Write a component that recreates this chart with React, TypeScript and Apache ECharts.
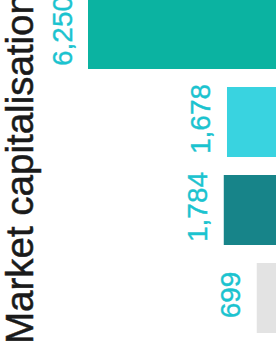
import React, { useEffect, useRef } from "react";
import * as echarts from "echarts";

const categories = ["A", "B", "C", "D"];
const values = [6250, 1678, 1784, 699];
const barColors = ["#0bb3a1", "#39d3e0", "#178489", "#e3e3e3"];
const titleText = "Market capitalisation";

export default function App() {
  const ref = useRef<HTMLDivElement>(null);
  useEffect(() => {
    if (!ref.current) return;
    const chart = echarts.init(ref.current, null, { renderer: "svg" });
    chart.setOption({
      animation: false,
      grid: {
        left: 88,
        right: -2,
        top: -10,
        bottom: 3,
        containLabel: false,
        outerBoundsMode: "none",
      },
      xAxis: {
        type: "value",
        inverse: true,
        min: 0,
        max: 6250,
        show: false,
      },
      yAxis: {
        type: "category",
        data: categories,
        inverse: true,
        show: false,
      },
      series: [
        {
          type: "bar",
          barWidth: 70,
          data: values.map((v, i) => ({ value: v, itemStyle: { color: barColors[i] } })),
          label: {
            show: true,
            position: "left",
            distance: 12,
            rotate: 90,
            align: "center",
            verticalAlign: "bottom",
            offset: [3, 0],
            color: "#1bc3cf",
            textBorderColor: "#1bc3cf",
            textBorderWidth: 0.4,
            fontSize: 28,
            fontFamily: "Liberation Sans, Arial, sans-serif",
            formatter: (p: any) => Number(p.value).toLocaleString("en-US"),
          },
        },
      ],
      graphic: [
        {
          type: "text",
          x: 0,
          y: 344,
          rotation: Math.PI / 2,
          style: {
            text: titleText,
            fontSize: 38.5,
            fontFamily: "Liberation Sans, Arial, sans-serif",
            fill: "#1a1a1a",
            stroke: "#1a1a1a",
            lineWidth: 0.5,
            textAlign: "left",
            textVerticalAlign: "top",
          },
        },
      ],
    });
    return () => chart.dispose();
  }, []);
  return (
    <div
      ref={ref}
      style={{ position: "absolute", left: 0, top: 0, width: 276, height: 345 }}
    />
  );
}
